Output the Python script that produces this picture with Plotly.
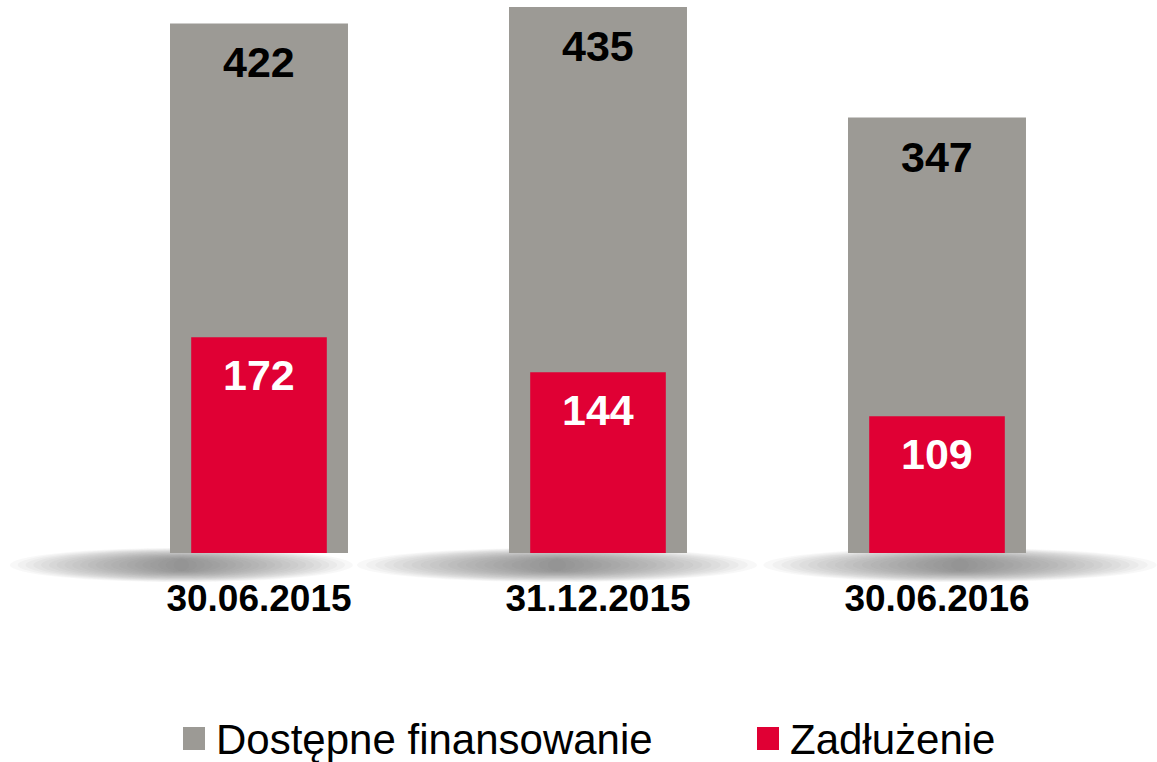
import plotly.graph_objects as go

# data
dates = ['30.06.2015', '31.12.2015', '30.06.2016']
available = [422, 435, 347]
debt = [172, 144, 109]
series_names = ['Dostępne finansowanie', 'Zadłużenie']

GRAY = '#9C9A95'
RED = '#E00034'
FONT = 'Liberation Sans, Arial, sans-serif'

W, H = 1157, 762
PLOT_H = 553          # plot area height in px (baseline at y=553)
PX_PER_UNIT = 1.255   # vertical scale

x_idx = list(range(len(dates)))

fig = go.Figure()

fig.add_trace(go.Bar(
    x=x_idx, y=available, name=series_names[0],
    width=0.525, marker=dict(color=GRAY, line=dict(width=0)),
    hoverinfo='skip', showlegend=False,
))
fig.add_trace(go.Bar(
    x=x_idx, y=debt, name=series_names[1],
    width=0.40, marker=dict(color=RED, line=dict(width=0)),
    hoverinfo='skip', showlegend=False,
))

# value labels near the top inside each bar
annotations = []
for i, v in zip(x_idx, available):
    annotations.append(dict(
        x=i, y=v, xref='x', yref='y', text=str(v), showarrow=False,
        yanchor='middle', yshift=-39,
        font=dict(family=FONT, size=43, color='black', weight='bold'),
    ))
for i, v in zip(x_idx, debt):
    annotations.append(dict(
        x=i, y=v, xref='x', yref='y', text=str(v), showarrow=False,
        yanchor='middle', yshift=-38,
        font=dict(family=FONT, size=43, color='white', weight='bold'),
    ))

# soft elliptical shadows under the bars
def py(px):
    return (PLOT_H - px) / PLOT_H

shapes = []
shadow_offsets = [-0.229, -0.121, 0.068]
shadow_half_w = [0.506, 0.59, 0.58]
steps = 22
for i, off, hw0 in zip(x_idx, shadow_offsets, shadow_half_w):
    cx = i + off
    for k in range(steps):
        f = 1 - k / steps
        hw = hw0 * f
        hh = 17 * (0.3 + 0.7 * f)
        shapes.append(dict(
            type='circle', layer='below', xref='x', yref='paper',
            x0=cx - hw, x1=cx + hw,
            y0=py(565 + hh), y1=py(565 - hh),
            fillcolor='#5a5a5a', opacity=0.045, line=dict(width=0),
        ))

# manual legend (larger swatches than plotly's built-in)
legend_items = [(series_names[0], GRAY, 183), (series_names[1], RED, 757)]
for name, col, x0 in legend_items:
    shapes.append(dict(
        type='rect', xref='paper', yref='paper',
        x0=x0 / W, x1=(x0 + 22) / W, y0=py(750), y1=py(727),
        fillcolor=col, line=dict(width=0),
    ))
    annotations.append(dict(
        x=(x0 + 31) / W, y=py(739), xref='paper', yref='paper',
        text=name, showarrow=False, xanchor='left', yanchor='middle',
        font=dict(family=FONT, size=42, color='black'),
    ))

left_units = 259 / 339
fig.update_layout(
    width=W, height=H,
    margin=dict(l=0, r=0, t=0, b=H - PLOT_H, pad=0),
    paper_bgcolor='white', plot_bgcolor='white',
    barmode='overlay',
    showlegend=False,
    xaxis=dict(
        range=[-left_units, -left_units + W / 339],
        tickmode='array', tickvals=x_idx, ticktext=dates,
        tickfont=dict(family=FONT, size=37, color='black', weight='bold'),
        showgrid=False, zeroline=False, showline=False, ticks='',
        ticklabelstandoff=20, fixedrange=True,
    ),
    yaxis=dict(
        range=[0, PLOT_H / PX_PER_UNIT],
        visible=False, showgrid=False, zeroline=False, fixedrange=True,
    ),
    shapes=shapes,
    annotations=annotations,
)

fig.write_html('out.html', config={'displayModeBar': False},
               post_script="document.body.style.margin='0';")
